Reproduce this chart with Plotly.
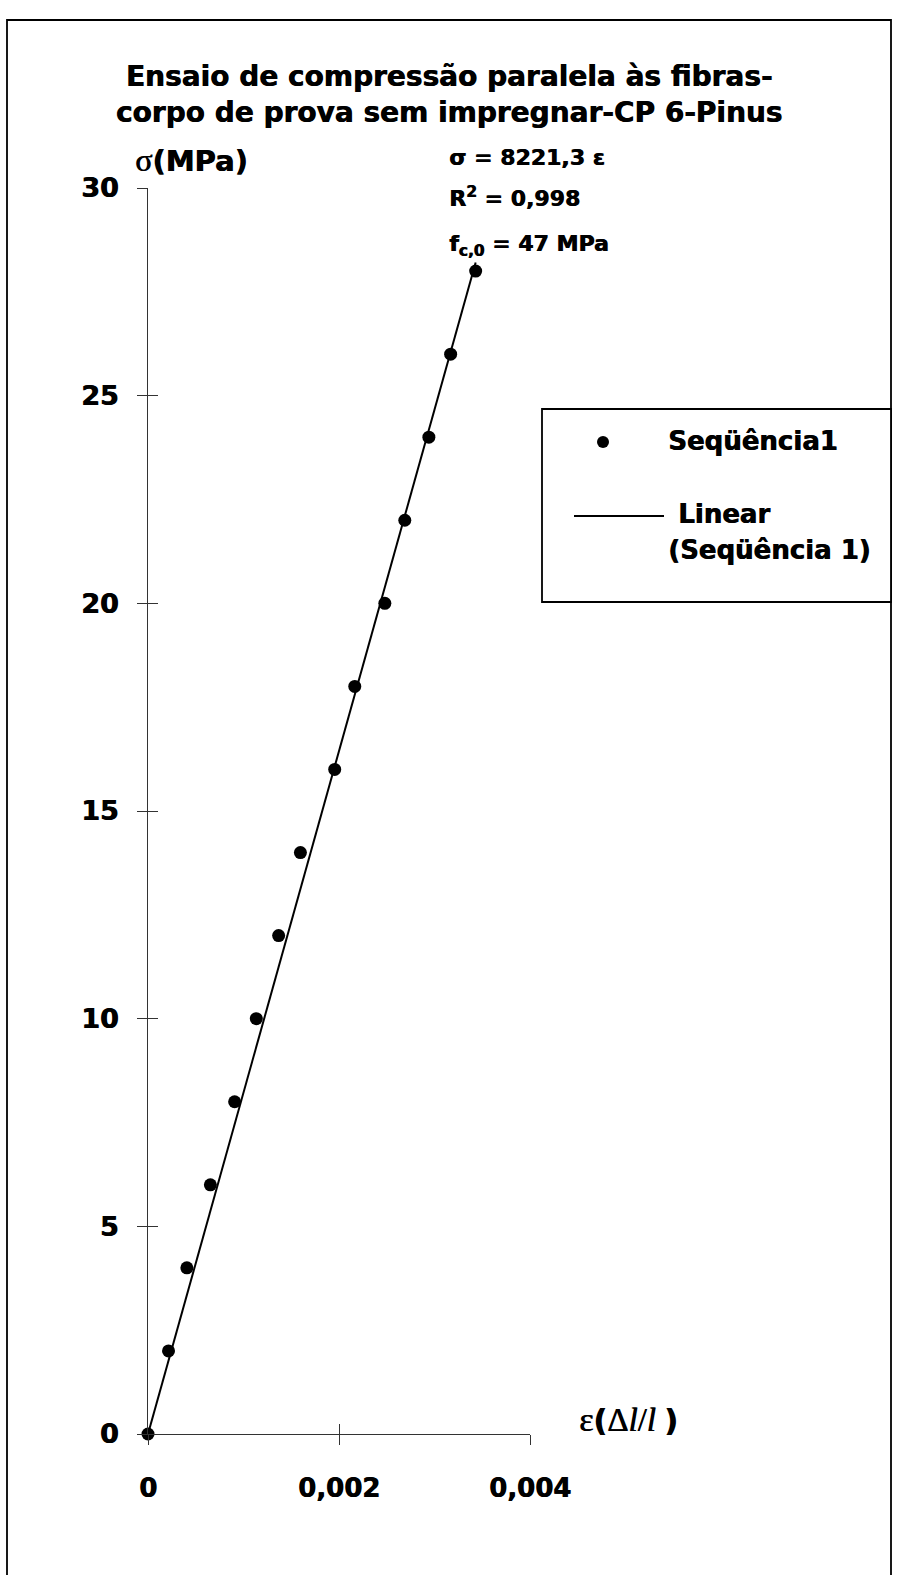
import plotly.graph_objects as go

# Measured stress-strain pairs, CP 6 (Pinus, not impregnated)
strain = [0.0, 0.000215, 0.000407, 0.000653, 0.000907, 0.001134, 0.001368,
          0.001596, 0.001955, 0.002165, 0.00248, 0.002689, 0.002941,
          0.003169, 0.003431]
stress = [0, 2, 4, 6, 8, 10, 12, 14, 16, 18, 20, 22, 24, 26, 28]

# Linear regression through the origin
slope = 8221.3
fit_x = [0.0, max(strain)]
fit_y = [slope * v for v in fit_x]

x_tickvals = [0, 0.002, 0.004]
x_ticktext = ["0", "0,002", "0,004"]
y_tickvals = [0, 5, 10, 15, 20, 25, 30]
y_ticktext = ["0", "5", "10", "15", "20", "25", "30"]

W, H = 898, 1575
PL, PR, PT, PB = 148, 530, 188, 1434

def fx(px):
    return (px - PL) / (PR - PL)

def fy(py):
    return (PB - py) / (PB - PT)

SANS = "DejaVu Sans"
INK = "black"
AXIS = "#333333"
HEAVY = "0.7px 0px 0px black"   # thickens the bold strokes slightly

def bold(size):
    return dict(family=SANS, size=size, color=INK, weight="bold", shadow=HEAVY)

fig = go.Figure()
fig.add_trace(go.Scatter(
    x=strain, y=stress, mode="markers", name="Seqüência1",
    marker=dict(color=INK, size=13), cliponaxis=False, showlegend=False))
fig.add_trace(go.Scatter(
    x=fit_x, y=fit_y, mode="lines", name="Linear (Seqüência 1)",
    line=dict(color=INK, width=2), cliponaxis=False, showlegend=False))
# companion axes carrying the inner half of the crossing tick marks
fig.add_trace(go.Scatter(x=[], y=[], xaxis="x2", yaxis="y2",
                         showlegend=False, hoverinfo="skip"))

fig.update_layout(
    width=W, height=H,
    margin=dict(l=PL, r=W - PR, t=PT, b=H - PB, pad=0),
    paper_bgcolor="white", plot_bgcolor="white",
    showlegend=False,
    font=dict(family=SANS, color=INK),
    title=dict(
        text="Ensaio de compressão paralela às fibras-<br>corpo de prova sem impregnar-CP 6-Pinus",
        font=bold(28),
        xref="container", x=0.5, xanchor="center",
        yref="container", y=1 - 86 / H, yanchor="middle"),
    xaxis=dict(range=[0, 0.004], tickvals=x_tickvals, ticktext=x_ticktext,
               ticks="outside", ticklen=10, tickwidth=1, tickcolor=AXIS,
               showline=True, linecolor=AXIS, linewidth=1,
               showgrid=False, zeroline=False, tickfont=bold(26),
               ticklabelstandoff=21),
    yaxis=dict(range=[0, 30], tickvals=y_tickvals, ticktext=y_ticktext,
               ticks="outside", ticklen=10, tickwidth=1, tickcolor=AXIS,
               showline=True, linecolor=AXIS, linewidth=1,
               showgrid=False, zeroline=False, tickfont=bold(27),
               ticklabelstandoff=13),
    xaxis2=dict(range=[0, 0.004], overlaying="x", anchor="y", side="bottom",
                tickvals=x_tickvals, ticks="inside", ticklen=10, tickwidth=1,
                tickcolor=AXIS, showticklabels=False, showline=False,
                showgrid=False, zeroline=False),
    yaxis2=dict(range=[0, 30], overlaying="y", anchor="x", side="left",
                tickvals=y_tickvals, ticks="inside", ticklen=10, tickwidth=1,
                tickcolor=AXIS, showticklabels=False, showline=False,
                showgrid=False, zeroline=False),
)

shapes = []
# frame around the whole chart
shapes.append(dict(type="rect", xref="paper", yref="paper",
                   x0=fx(7), x1=fx(891), y0=fy(1600), y1=fy(20),
                   line=dict(color=INK, width=1.8), fillcolor="rgba(0,0,0,0)",
                   layer="above"))
# legend box
shapes.append(dict(type="rect", xref="paper", yref="paper",
                   x0=fx(542), x1=fx(891), y0=fy(602), y1=fy(409),
                   line=dict(color=INK, width=1.8), fillcolor="white",
                   layer="above"))
# legend glyphs
shapes.append(dict(type="circle", xref="paper", yref="paper",
                   xsizemode="pixel", ysizemode="pixel",
                   xanchor=fx(603), yanchor=fy(442),
                   x0=-6, x1=6, y0=-6, y1=6,
                   line=dict(color=INK, width=0), fillcolor=INK, layer="above"))
shapes.append(dict(type="line", xref="paper", yref="paper",
                   x0=fx(574), x1=fx(664), y0=fy(516), y1=fy(516),
                   line=dict(color=INK, width=2), layer="above"))
fig.update_layout(shapes=shapes)

def label(text, px, py, size, xanchor="left"):
    fig.add_annotation(text=text, xref="paper", yref="paper",
                       x=fx(px), y=fy(py), xanchor=xanchor, yanchor="middle",
                       showarrow=False, font=bold(size))

def serif(text, size):
    return ("<span style=\"font-family:'Liberation Serif';font-weight:normal;"
            "font-size:%dpx\">%s</span>" % (size, text))

# axis captions
label(serif("σ", 32) + "(MPa)", 133, 160, 29)
label(serif("ε", 34) + "(" + serif("Δ<i>l</i>/<i>l</i> ", 33) + ")", 577, 1419, 30)

# regression summary
label("σ = 8221,3 ε", 447, 157, 22)
label("R<sup>2</sup> = 0,998", 447, 197, 22)
label("f<sub>c,0</sub> = 47 MPa", 447, 245, 22)

# legend entries
label("Seqüência1", 666, 441, 26)
label("Linear", 676, 514, 26)
label("(Seqüência 1)", 666, 550, 26)

fig.write_html("out.html")
